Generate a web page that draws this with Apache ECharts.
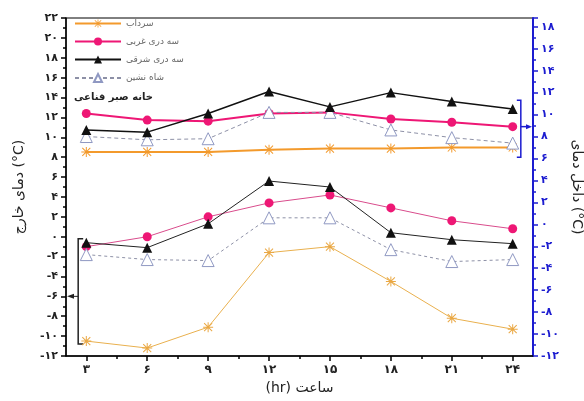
<!DOCTYPE html>
<html>
<head>
<meta charset="utf-8">
<script src="https://cdn.jsdelivr.net/npm/echarts@6/dist/echarts.min.js"></script>
<style>
  html, body { margin: 0; padding: 0; background: #fff; }
  #chart1 { width: 584px; height: 401px; }
</style>
</head>
<body>
<div id="chart1"></div>
<script>
const hours = [3, 6, 9, 12, 15, 18, 21, 24]
const seriesNames = ['سرداب', 'سه دری غربی', 'سه دری شرقی', 'شاه نشین']

// upper group (right axis, inside temp)
const sardabIn = [6.6, 6.6, 6.6, 6.8, 6.9, 6.9, 7.0, 7.0]
const gharbiIn = [10.1, 9.5, 9.4, 10.1, 10.2, 9.6, 9.3, 8.9]
const sharghiIn = [8.6, 8.4, 10.1, 12.1, 10.7, 12.0, 11.2, 10.5]
const shahneshinIn = [8.0, 7.7, 7.8, 10.2, 10.2, 8.6, 7.9, 7.4]

// lower group (left axis, outside temp)
const sardabOut = [-10.5, -11.2, -9.1, -1.6, -1.0, -4.5, -8.2, -9.3]
const gharbiOut = [-1.0, 0.0, 2.0, 3.4, 4.2, 2.9, 1.6, 0.8]
const sharghiOut = [-0.6, -1.1, 1.3, 5.6, 5.0, 0.4, -0.3, -0.7]
const shahneshinOut = [-1.8, -2.3, -2.4, 1.9, 1.9, -1.3, -2.5, -2.3]

const xTicks = [3, 6, 9, 12, 15, 18, 21, 24]
const xMinorTicks = [4.5, 7.5, 10.5, 13.5, 16.5, 19.5, 22.5]

const FONT = 'DejaVu Sans'
const BLUE = '#1c1cd0'
const starPath = 'path://M9,0L11,0L11,20L9,20Z M0,9L20,9L20,11L0,11Z M2.7,1.3L18.7,17.3L17.3,18.7L1.3,2.7Z M17.3,1.3L18.7,2.7L2.7,18.7L1.3,17.3Z'

const fa = (v) => String(v).replace(/\d/g, d => '۰۱۲۳۴۵۶۷۸۹'[d])
const pairs = (arr) => arr.map((v, i) => [hours[i], v])

const mkSeries = (name, data, yIdx, style) => ({
  name: name,
  type: 'line',
  yAxisIndex: yIdx,
  data: pairs(data),
  symbol: style.symbol,
  symbolSize: style.size,
  itemStyle: style.item,
  lineStyle: style.line,
  z: style.z || 2
})

const styles = {
  sardabTop: { symbol: starPath, size: 10, item: { color: '#f39a2c' }, line: { color: '#f39a2c', width: 2 } },
  gharbiTop: { symbol: 'circle', size: 9, item: { color: '#ee1775' }, line: { color: '#ee1775', width: 2 } },
  sharghiTop: { symbol: 'triangle', size: 10, item: { color: '#111' }, line: { color: '#111', width: 1.5 }, z: 3 },
  shahTop: { symbol: 'triangle', size: 12, item: { color: '#fff', borderColor: '#8f98c2', borderWidth: 1 }, line: { color: '#8d90a6', width: 1, type: [4, 3] } },
  sardabBot: { symbol: starPath, size: 10, item: { color: '#eaa844' }, line: { color: '#e9b04e', width: 1 } },
  gharbiBot: { symbol: 'circle', size: 9, item: { color: '#ee1775' }, line: { color: '#d94c8c', width: 1 } },
  sharghiBot: { symbol: 'triangle', size: 10, item: { color: '#111' }, line: { color: '#222', width: 1 }, z: 3 },
  shahBot: { symbol: 'triangle', size: 12, item: { color: '#fff', borderColor: '#8f98c2', borderWidth: 1 }, line: { color: '#8d90a6', width: 1, type: [3, 3] } }
}

const getOptionChart1 = () => ({
  animation: false,
  textStyle: { fontFamily: FONT },
  title: {
    text: 'خانه صبر قناعی',
    left: 74,
    top: 92,
    padding: 0,
    textStyle: { fontFamily: FONT, fontSize: 10, fontWeight: 'bold', color: '#222' }
  },
  legend: {
    data: seriesNames,
    orient: 'vertical',
    left: 74,
    top: 19,
    padding: 0,
    itemWidth: 46,
    itemHeight: 10,
    itemGap: 9,
    textStyle: { fontFamily: FONT, fontSize: 9, color: '#666' }
  },
  grid: {
    left: 66,
    right: 51,
    top: 18,
    bottom: 45,
    outerBoundsMode: 'none',
    show: true,
    borderColor: '#000',
    borderWidth: 1
  },
  xAxis: [
    {
      type: 'value',
      min: 2,
      max: 25,
      name: '(hr) ساعت',
      nameLocation: 'middle',
      nameGap: 20,
      nameTextStyle: { fontFamily: FONT, fontSize: 14, color: '#222' },
      splitLine: { show: false },
      axisLine: { onZero: false, lineStyle: { color: '#000', width: 1.5 } },
      axisTick: { show: true, length: 5, customValues: xTicks, lineStyle: { color: '#000', width: 1.5 } },
      axisLabel: { customValues: xTicks, formatter: fa, margin: 8, fontFamily: FONT, fontSize: 12, fontWeight: 'bold', color: '#222' }
    },
    {
      type: 'value',
      min: 2,
      max: 25,
      position: 'bottom',
      splitLine: { show: false },
      axisLine: { show: false, onZero: false },
      axisTick: { show: true, length: 3, customValues: xMinorTicks, lineStyle: { color: '#000', width: 1.5 } },
      axisLabel: { show: false }
    }
  ],
  yAxis: [
    {
      type: 'value',
      min: -12,
      max: 22,
      interval: 2,
      name: 'دمای خارج (°C)',
      nameLocation: 'middle',
      nameRotate: 90,
      nameGap: 40,
      nameTextStyle: { fontFamily: FONT, fontSize: 14, color: '#222' },
      splitLine: { show: false },
      axisLine: { show: true, onZero: false, lineStyle: { color: '#000', width: 1.5 } },
      axisTick: { show: true, length: 5, lineStyle: { color: '#000', width: 1.5 } },
      minorTick: { show: true, splitNumber: 2, length: 3, lineStyle: { color: '#000', width: 1.5 } },
      axisLabel: { formatter: fa, margin: 8, fontFamily: FONT, fontSize: 11, fontWeight: 'bold', color: '#222' }
    },
    {
      type: 'value',
      min: -12,
      max: 18.8,
      interval: 2,
      position: 'right',
      name: 'داخل دمای (°C)',
      nameLocation: 'middle',
      nameRotate: -90,
      nameGap: 35,
      nameTextStyle: { fontFamily: FONT, fontSize: 14, color: '#222' },
      splitLine: { show: false },
      axisLine: { show: true, onZero: false, lineStyle: { color: BLUE, width: 2 } },
      axisTick: { show: true, length: 5, lineStyle: { color: BLUE, width: 1.5 } },
      minorTick: { show: true, splitNumber: 2, length: 3, lineStyle: { color: BLUE, width: 1.5 } },
      axisLabel: {
        formatter: (v) => (Number.isInteger(v) ? fa(v) : ''),
        margin: 8, fontFamily: FONT, fontSize: 11, fontWeight: 'bold', color: BLUE
      }
    }
  ],
  series: [
    mkSeries(seriesNames[0], sardabIn, 1, styles.sardabTop),
    mkSeries(seriesNames[1], gharbiIn, 1, styles.gharbiTop),
    mkSeries(seriesNames[2], sharghiIn, 1, styles.sharghiTop),
    mkSeries(seriesNames[3], shahneshinIn, 1, styles.shahTop),
    mkSeries(seriesNames[0], sardabOut, 0, styles.sardabBot),
    mkSeries(seriesNames[1], gharbiOut, 0, styles.gharbiBot),
    mkSeries(seriesNames[2], sharghiOut, 0, styles.sharghiBot),
    mkSeries(seriesNames[3], shahneshinOut, 0, styles.shahBot)
  ]
})

// bracket + arrow annotations pointing each group to its axis
const bracketElements = (chart) => {
  const L = (x, y) => chart.convertToPixel({ xAxisIndex: 0, yAxisIndex: 0 }, [x, y])
  const R = (x, y) => chart.convertToPixel({ xAxisIndex: 0, yAxisIndex: 1 }, [x, y])
  const lt = L(2.6, -0.2), lb = L(2.6, -10.8), la = L(2.6, -6), axL = L(2, -6)
  const rt = R(24.4, 11.3), rb = R(24.4, 6.1), ra = R(24.4, 8.9), axR = R(25, 8.9)
  return [
    { type: 'polyline', shape: { points: [[lt[0] + 5, lt[1]], lt, lb, [lb[0] + 5, lb[1]]] }, style: { stroke: '#222', lineWidth: 1.5, fill: null } },
    { type: 'line', shape: { x1: la[0], y1: la[1], x2: axL[0] + 4, y2: axL[1] }, style: { stroke: '#222', lineWidth: 1 } },
    { type: 'polygon', shape: { points: [[axL[0] + 1, axL[1]], [axL[0] + 8, axL[1] - 2.5], [axL[0] + 8, axL[1] + 2.5]] }, style: { fill: '#222' } },
    { type: 'polyline', shape: { points: [[rt[0] - 4, rt[1]], rt, rb, [rb[0] - 4, rb[1]]] }, style: { stroke: BLUE, lineWidth: 1.5, fill: null } },
    { type: 'line', shape: { x1: ra[0], y1: ra[1], x2: axR[0] - 4, y2: axR[1] }, style: { stroke: BLUE, lineWidth: 1.5 } },
    { type: 'polygon', shape: { points: [[axR[0] - 1, axR[1]], [axR[0] - 7, axR[1] - 2.5], [axR[0] - 7, axR[1] + 2.5]] }, style: { fill: BLUE } }
  ]
}

const initChart1 = () => {
  const chart1 = echarts.init(document.getElementById('chart1'))
  chart1.setOption(getOptionChart1())
  chart1.setOption({ graphic: bracketElements(chart1) })
}

initChart1()
</script>
</body>
</html>
